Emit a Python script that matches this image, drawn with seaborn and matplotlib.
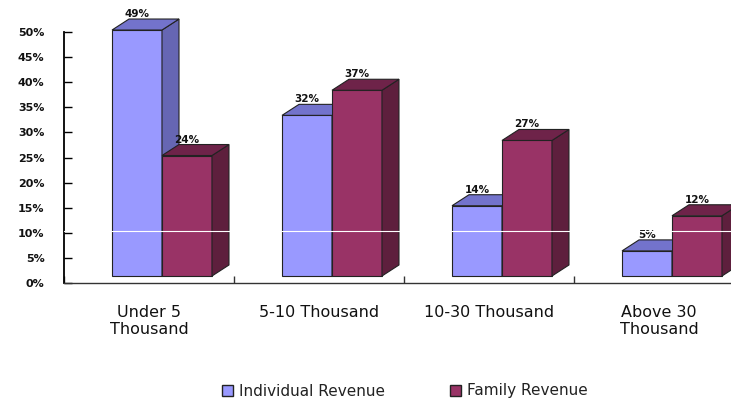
import pandas as pd
import matplotlib
matplotlib.use('Agg')
import matplotlib.pyplot as plt
import seaborn as sns
from matplotlib.patches import Polygon, Patch

# Data
categories = ['Under 5\nThousand', '5-10 Thousand', '10-30 Thousand', 'Above 30\nThousand']
individual = [49, 32, 14, 5]
family = [24, 37, 27, 12]
series = ['Individual Revenue', 'Family Revenue']
y_ticks = list(range(0, 55, 5))

# Colours: front, top, side
front_cols = ['#9999FF', '#993366']
top_cols = ['#7373CC', '#6E2349']
side_cols = ['#6666B3', '#5E1F3D']

df = pd.DataFrame({
    'Income': categories * 2,
    'Share': individual + family,
    'Type': [series[0]] * 4 + [series[1]] * 4,
})

sns.set_style('white')
plt.rcParams['font.family'] = ['DejaVu Sans']

fig = plt.figure(figsize=(7.31, 3.99), dpi=100)
ax = fig.add_axes([64 / 731, 116 / 399, 680 / 731, 251 / 399])

sns.barplot(data=df, x='Income', y='Share', hue='Type', hue_order=series,
            palette=front_cols, saturation=1, width=0.588, dodge=True,
            edgecolor='#222222', linewidth=0.8, legend=False, ax=ax)

ax.set_xlim(-0.5, 3.5)
ax.set_ylim(0, 50)

# pixel offsets for the fake 3D depth
inv = ax.transData.inverted()
p0 = inv.transform((0, 0))
p1 = inv.transform((17, 11))
dx, dy = p1[0] - p0[0], p1[1] - p0[1]
shift = inv.transform((13, 0))[0] - p0[0]
floor = inv.transform((0, 7))[1] - p0[1]

for k, cont in enumerate(ax.containers):
    for bar, val in zip(cont.patches, cont.datavalues):
        bar.set_x(bar.get_x() + shift)
        bar.set_y(floor)
        bar.set_zorder(2 + 2 * k)
        bar.set_clip_on(False)
        x0 = bar.get_x()
        x1 = x0 + bar.get_width()
        y0 = floor
        y1 = floor + val
        side = Polygon([(x1, y0), (x1 + dx, y0 + dy), (x1 + dx, y1 + dy), (x1, y1)],
                       closed=True, facecolor=side_cols[k], edgecolor='#222222',
                       linewidth=0.8, zorder=3 + 2 * k, clip_on=False)
        top = Polygon([(x0, y1), (x0 + dx, y1 + dy), (x1 + dx, y1 + dy), (x1, y1)],
                      closed=True, facecolor=top_cols[k], edgecolor='#222222',
                      linewidth=0.8, zorder=3 + 2 * k, clip_on=False)
        ax.add_patch(side)
        ax.add_patch(top)
        ax.text((x0 + x1) / 2, y1 + dy, f'{val:g}%', ha='center', va='bottom',
                fontsize=7.5, fontweight='bold', color='#111111', zorder=10)

# thin white scan line seen across the original
ax.axhline((283 - 231) / 5.02, color='white', linewidth=0.8, zorder=12)

# axes styling
sns.despine(ax=ax, top=True, right=True)
ax.spines['left'].set_color('black')
ax.spines['left'].set_linewidth(1.3)
ax.spines['bottom'].set_color('#333333')
ax.spines['bottom'].set_linewidth(1.0)

ax.set_yticks(y_ticks)
ax.set_yticklabels([f'{v}%' for v in y_ticks], fontsize=8, fontweight='bold')
ax.tick_params(axis='y', left=True, direction='in', length=6, width=1, pad=14,
               color='black', labelcolor='#111111')

ax.set_xticks(range(len(categories)))
ax.set_xticklabels(categories, fontsize=11.5, color='#111111', linespacing=1.15)
ax.set_xticks([i - 0.5 for i in range(len(categories) + 1)], minor=True)
ax.tick_params(axis='x', which='major', bottom=True, length=0, pad=16)
ax.tick_params(axis='x', which='minor', bottom=True, direction='in', length=5,
               width=1, color='#333333')

ax.set_xlabel('')
ax.set_ylabel('')

handles = [Patch(facecolor=front_cols[i], edgecolor='#222222', linewidth=1.0) for i in range(2)]
fig.legend(handles, series, loc='center', bbox_to_anchor=(405 / 731, 8 / 399),
           ncol=2, frameon=False, fontsize=11, columnspacing=4.3,
           handlelength=0.7, handleheight=0.7, handletextpad=0.4, labelcolor='#222222')

fig.savefig('out.png', dpi=100)
